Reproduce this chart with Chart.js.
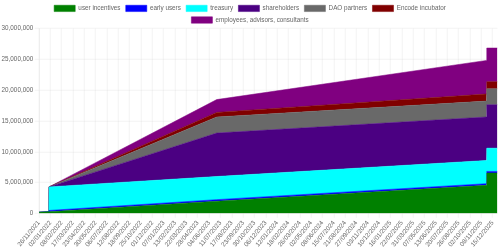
<!DOCTYPE html>
<html>
<head>
<meta charset="utf-8">
<script src="https://cdn.jsdelivr.net/npm/chart.js@4"></script>
<style>
  html, body { margin: 0; padding: 0; overflow: hidden; background: #fff; }
  #wrap { width: 950px; height: 475px; transform: scale(0.5263); transform-origin: 0 0; }
</style>
</head>
<body>
<div id="wrap"><canvas id="vesting"></canvas></div>
<script>
// days since 26/11/2021 where the schedule changes
const days = [0, 32, 33, 580, 1460, 1461, 1496];

const userIncentives = [200000, 300000, 300000, 2000000, 4570000, 6560000, 6560000];
const earlyUsers     = [0, 0, 200000, 250000, 270000, 270000, 270000];
const treasury       = [0, 0, 3820000, 3750000, 3760000, 3760000, 3760000];
const shareholders   = [0, 0, 0, 7040000, 7040000, 7040000, 7040000];
const daoPartners    = [0, 0, 0, 2600000, 2580000, 2580000, 2580000];
const encode         = [0, 0, 0, 750000, 1150000, 1150000, 1150000];
const employees      = [0, 0, 0, 2080000, 5440000, 5460000, 5460000];

// x tick labels, one every 37 days
const tickStep = 37;
const tickLabels = [
  "26/11/2021", "02/01/2022", "08/02/2022", "17/03/2022", "23/04/2022", "30/05/2022",
  "06/07/2022", "12/08/2022", "18/09/2022", "25/10/2022", "01/12/2022", "07/01/2023",
  "13/02/2023", "22/03/2023", "28/04/2023", "04/06/2023", "11/07/2023", "17/08/2023",
  "23/09/2023", "30/10/2023", "06/12/2023", "12/01/2024", "18/02/2024", "26/03/2024",
  "02/05/2024", "08/06/2024", "15/07/2024", "21/08/2024", "27/09/2024", "03/11/2024",
  "10/12/2024", "16/01/2025", "22/02/2025", "31/03/2025", "07/05/2025", "13/06/2025",
  "20/07/2025", "26/08/2025", "02/10/2025", "08/11/2025", "15/12/2025"
];

function series(label, values, color, fill) {
  return {
    label: label,
    data: values.map((v, i) => ({ x: days[i], y: v })),
    backgroundColor: color,
    borderColor: color,
    borderWidth: 1,
    pointRadius: 0,
    fill: fill
  };
}

const ctx = document.getElementById("vesting").getContext("2d");
new Chart(ctx, {
  type: "line",
  data: {
    datasets: [
      series("user incentives", userIncentives, "#008000", "origin"),
      series("early users", earlyUsers, "#0000ff", "-1"),
      series("treasury", treasury, "#00ffff", "-1"),
      series("shareholders", shareholders, "#4b0082", "-1"),
      series("DAO partners", daoPartners, "#696969", "-1"),
      series("Encode incubator", encode, "#800000", "-1"),
      series("employees, advisors, consultants", employees, "#800080", "-1")
    ]
  },
  options: {
    responsive: true,
    maintainAspectRatio: false,
    animation: false,
    devicePixelRatio: 0.5263,
    plugins: {
      legend: { position: "top" },
      tooltip: { enabled: false }
    },
    scales: {
      x: {
        type: "linear",
        min: 0,
        max: days[days.length - 1],
        afterBuildTicks: function(scale) {
          scale.ticks = tickLabels.map((t, i) => ({ value: i * tickStep }));
        },
        ticks: {
          autoSkip: false,
          maxRotation: 50,
          minRotation: 50,
          callback: function(value) {
            return tickLabels[Math.round(value / tickStep)];
          }
        }
      },
      y: {
        stacked: true,
        min: 0,
        max: 30000000,
        ticks: { stepSize: 5000000 }
      }
    }
  }
});
</script>
</body>
</html>
